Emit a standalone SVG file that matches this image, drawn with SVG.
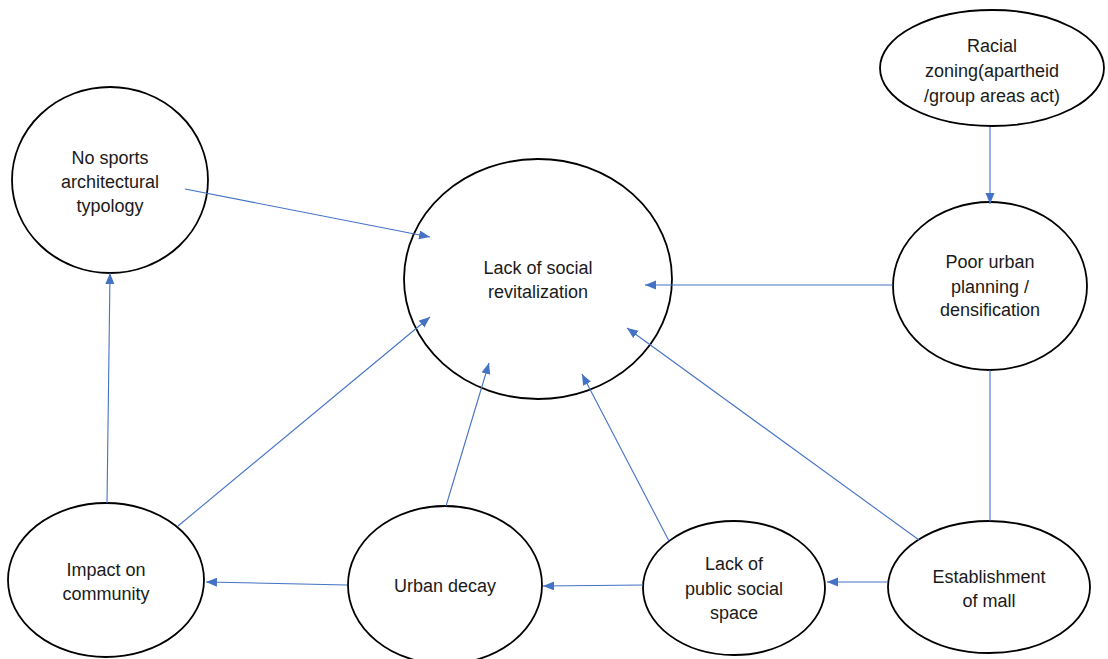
<svg xmlns="http://www.w3.org/2000/svg" width="1108" height="659" viewBox="0 0 1108 659">
<defs>
<style>
.n ellipse{fill:#fff;stroke:#000;stroke-width:1.8}
.n text{font-family:"Liberation Sans",Arial,sans-serif;font-size:18px;fill:#1a1a1a;text-anchor:middle}
.c line{stroke:#4472C4;stroke-width:1.1;fill:none}
.c .a{marker-end:url(#ah)}
</style>
<marker id="ah" markerUnits="userSpaceOnUse" markerWidth="12" markerHeight="10" refX="11" refY="4.5" orient="auto">
<path d="M0,0 L11,4.5 L0,9 z" fill="#4472C4"/>
</marker>
</defs>
<rect width="1108" height="659" fill="#fff"/>
<g id="nodes" class="n">
<g id="no-sports"><ellipse cx="110" cy="180" rx="98" ry="93"/><text x="110" y="164">No sports</text><text x="110" y="188">architectural</text><text x="110" y="212">typology</text></g>
<g id="lack-social-revitalization"><ellipse cx="538" cy="279" rx="134" ry="120"/><text x="538" y="274">Lack of social</text><text x="538" y="298">revitalization</text></g>
<g id="racial-zoning"><ellipse cx="992" cy="68" rx="112" ry="58"/><text x="992" y="52">Racial</text><text x="992" y="77">zoning(apartheid</text><text x="992" y="102">/group areas act)</text></g>
<g id="poor-urban-planning"><ellipse cx="990" cy="286" rx="97" ry="84"/><text x="990" y="268">Poor urban</text><text x="990" y="293">planning /</text><text x="990" y="316">densification</text></g>
<g id="impact-community"><ellipse cx="106" cy="580" rx="98" ry="77"/><text x="106" y="576">Impact on</text><text x="106" y="600">community</text></g>
<g id="urban-decay"><ellipse cx="445" cy="585" rx="97" ry="79"/><text x="445" y="592">Urban decay</text></g>
<g id="lack-public-space"><ellipse cx="734" cy="588" rx="91" ry="67"/><text x="734" y="570">Lack of</text><text x="734" y="595">public social</text><text x="734" y="619">space</text></g>
<g id="establishment-mall"><ellipse cx="989" cy="587" rx="101" ry="66"/><text x="989" y="583">Establishment</text><text x="989" y="607">of mall</text></g>
</g>
<g id="connectors" class="c">
<line class="a" x1="185" y1="189" x2="430" y2="237"/>
<line class="a" x1="990" y1="127" x2="990" y2="204"/>
<line class="a" x1="893" y1="285" x2="645" y2="285"/>
<line x1="990" y1="370" x2="990" y2="521"/>
<line class="a" x1="919" y1="540" x2="627" y2="328"/>
<line class="a" x1="888" y1="582" x2="827" y2="582"/>
<line class="a" x1="669" y1="541" x2="582" y2="374"/>
<line class="a" x1="643" y1="585" x2="543" y2="586"/>
<line class="a" x1="446" y1="506" x2="489" y2="363"/>
<line class="a" x1="347" y1="585" x2="206" y2="582"/>
<line class="a" x1="107" y1="503" x2="110" y2="273"/>
<line class="a" x1="178" y1="526" x2="430" y2="317"/>
</g>
</svg>
